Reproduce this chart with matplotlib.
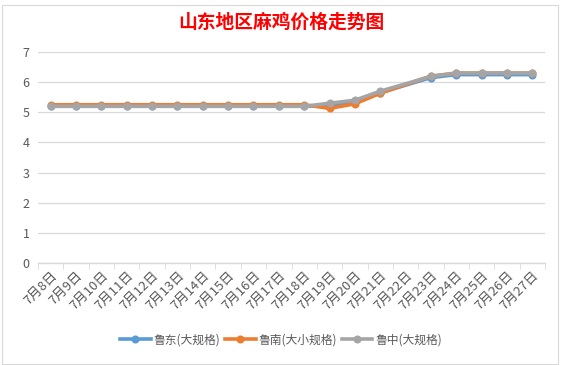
import numpy as np
import matplotlib
matplotlib.use("Agg")
import matplotlib.pyplot as plt
from matplotlib.lines import Line2D

plt.rcParams['font.family'] = ['Noto Sans CJK SC', 'DejaVu Sans']

# ---- data -----------------------------------------------------------------
dates = ["7月8日", "7月9日", "7月10日", "7月11日", "7月12日", "7月13日",
         "7月14日", "7月15日", "7月16日", "7月17日", "7月18日", "7月19日",
         "7月20日", "7月21日", "7月22日", "7月23日", "7月24日", "7月25日",
         "7月26日", "7月27日"]

# 7月22日 has no reading; the line is drawn straight across it
ludong = [5.2] * 11 + [5.22, 5.35, 5.65, None, 6.15, 6.25, 6.25, 6.25, 6.25]
lunan = [5.25] * 11 + [5.13, 5.28, 5.63, None, 6.2, 6.3, 6.3, 6.3, 6.3]
luzhong = [5.2] * 11 + [5.3, 5.4, 5.7, None, 6.19, 6.3, 6.3, 6.3, 6.3]

series = [
    ("鲁东(大规格)", ludong, "#5B9BD5"),
    ("鲁南(大小规格)", lunan, "#ED7D31"),
    ("鲁中(大规格)", luzhong, "#A5A5A5"),
]

# ---- figure ---------------------------------------------------------------
fig = plt.figure(figsize=(5.62, 3.65), dpi=100)
ax = fig.add_axes([38 / 562, 1 - 263 / 365, (545 - 38) / 562, (263 - 52) / 365])

x = np.arange(len(dates))
handles = []
for label, vals, col in series:
    v = np.array([np.nan if a is None else a for a in vals], dtype=float)
    ok = ~np.isnan(v)
    ax.plot(x[ok], v[ok], color=col, lw=2.6, marker="o", ms=5.8,
            markeredgewidth=0, solid_capstyle="round", zorder=3)
    handles.append(Line2D([0], [0], color=col, lw=2.6, marker="o", ms=5.8,
                          markeredgewidth=0, label=label))

ax.set_xlim(-0.5, len(dates) - 0.5)
ax.set_ylim(0, 7)
ax.set_yticks(range(0, 8))
ax.yaxis.grid(True, color="#D9D9D9", lw=0.9)
ax.set_axisbelow(True)

for s in ["top", "right", "left"]:
    ax.spines[s].set_visible(False)
ax.spines["bottom"].set_color("#D9D9D9")
ax.spines["bottom"].set_linewidth(1.0)

ax.set_xticks(x)
ax.set_xticklabels(dates, rotation=45, ha="right", va="top",
                   rotation_mode="anchor", fontsize=9.5, color="#595959")
ax.set_xticks(np.arange(-0.5, len(dates)), minor=True)
ax.tick_params(axis="x", which="major", length=0, pad=4)
ax.tick_params(axis="x", which="minor", length=4, color="#D9D9D9")
ax.tick_params(axis="y", length=0, labelsize=9, labelcolor="#595959", pad=6)

fig.text(0.5, 1 - 22 / 365, "山东地区麻鸡价格走势图", ha="center", va="center",
         fontsize=13.5, fontweight="bold", color="#FF0000")

fig.legend(handles=handles, loc="center", bbox_to_anchor=(0.5, 1 - 340 / 365),
           ncol=3, frameon=False, fontsize=8.5, handlelength=2.6,
           columnspacing=0.4, handletextpad=0.25, labelcolor="#595959")

# chart border (spreadsheet look)
fig.add_artist(plt.Rectangle((0.003, 0.003), 1 - 6 / 562, 1 - 6 / 365,
                             transform=fig.transFigure, fill=False,
                             edgecolor="#D9D9D9", lw=0.8))

fig.savefig("out.png", dpi=100)
